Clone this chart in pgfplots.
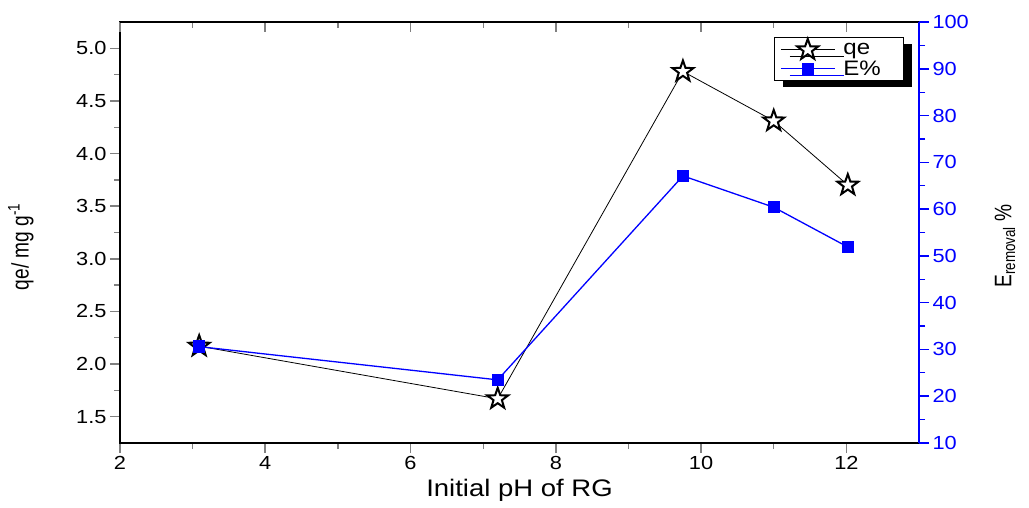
\documentclass[border=0pt]{standalone}
\usepackage{graphicx}
\usepackage{pgfplots}
\pgfplotsset{compat=1.18}
\usetikzlibrary{shadows}
\usepackage{fontspec}
\setmainfont{Liberation Sans}[FakeStretch=1.15]
\newfontfamily\rotfont{Liberation Sans}
\newcommand\tickfont{\fontsize{19}{21}\selectfont}
\definecolor{oblue}{RGB}{0,0,255}

\pgfdeclareplotmark{pstar}{%
  \pgfpathmoveto{\pgfpointpolar{90}{\pgfplotmarksize}}%
  \pgfpathlineto{\pgfpointpolar{126}{0.40\pgfplotmarksize}}%
  \pgfpathlineto{\pgfpointpolar{162}{\pgfplotmarksize}}%
  \pgfpathlineto{\pgfpointpolar{198}{0.40\pgfplotmarksize}}%
  \pgfpathlineto{\pgfpointpolar{234}{\pgfplotmarksize}}%
  \pgfpathlineto{\pgfpointpolar{270}{0.40\pgfplotmarksize}}%
  \pgfpathlineto{\pgfpointpolar{306}{\pgfplotmarksize}}%
  \pgfpathlineto{\pgfpointpolar{342}{0.40\pgfplotmarksize}}%
  \pgfpathlineto{\pgfpointpolar{18}{\pgfplotmarksize}}%
  \pgfpathlineto{\pgfpointpolar{54}{0.40\pgfplotmarksize}}%
  \pgfpathclose
  \pgfusepathqfillstroke
}

\pgfplotstableread{
x y
3.09 2.17
7.20 1.67
9.75 4.78
11.00 4.31
12.02 3.70
}\qedata

\pgfplotstableread{
x y
3.09 30.6
7.20 23.5
9.75 67.1
11.00 60.4
12.02 51.9
}\Edata

\begin{document}
\begin{tikzpicture}
\pgfplotsset{
  common/.style={
    scale only axis, width=799bp, height=421bp,
    at={(0,0)}, anchor=south west,
    xmin=2, xmax=13,
    /pgf/number format/assume math mode=true,
    major tick length=10bp, minor tick length=6bp,
    major tick style={line width=1.6bp},
    minor tick style={line width=1.3bp},
  }
}
\begin{axis}[common,
  ymin=1.25, ymax=5.25,
  xtick={2,4,...,12}, ytick={1.5,2,...,5},
  minor x tick num=1, minor y tick num=1,
  xtick pos=left, ytick pos=left, tick align=outside,
  axis line style={line width=1.5bp},
  xticklabel={\mbox{\tickfont\pgfmathprintnumber[assume math mode=true]{\tick}}},
  yticklabel={\mbox{\tickfont\pgfmathprintnumber[assume math mode=true,fixed,fixed zerofill,precision=1]{\tick}}},
  xlabel={Initial pH of RG},
  xlabel style={font=\fontsize{24}{28}\selectfont, yshift=-2bp},
  ylabel={\scalebox{0.8}[1]{\rotfont\fontsize{24}{26}\selectfont qe/ mg g\textsuperscript{-1}}},
  every axis y label/.style={at={(axis description cs:-0.124,0.466)}, rotate=90, anchor=center},
]
\addplot[black, line width=0.8bp, mark=pstar, mark size=11bp,
  mark options={fill=white, line width=2bp}] table[x=x,y=y] {\qedata};
\end{axis}

\begin{axis}[common,
  ymin=0, ymax=1, hide y axis,
  axis x line*=top, axis line style={-, line width=1.5bp},
  xtick={2,4,...,12}, minor x tick num=1, tick align=inside,
  xticklabels={},
]
\end{axis}

\begin{axis}[common,
  ymin=10, ymax=100,
  axis y line*=right, axis x line=none,
  ytick={10,20,...,100}, minor y tick num=1, tick align=outside,
  axis line style={oblue, -, line width=1.5bp},
  tick style={oblue},
  yticklabel style={oblue},
  yticklabel={\mbox{\tickfont\pgfmathprintnumber[assume math mode=true]{\tick}}},
  ylabel={\scalebox{0.8}[1]{\rotfont\fontsize{24}{26}\selectfont E\textsubscript{removal} \%}},
  every axis y label/.style={at={(axis description cs:1.1076,0.468)}, rotate=90, anchor=center},
  legend style={at={(0.98,0.964)}, anchor=north east, draw=black, fill=white,
    font=\fontsize{21}{23}\selectfont, row sep=0bp, column sep=6bp,
    inner xsep=6bp, inner ysep=1.5bp,
    drop shadow={shadow xshift=9bp, shadow yshift=-7bp, fill=black, opacity=1}},
  legend cell align=left,
  legend image code/.code={\draw[mark repeat=2,mark phase=2,#1] plot coordinates {(0bp,0bp) (27bp,0bp) (54bp,0bp)};},
]
\addlegendimage{black, line width=0.8bp, mark=pstar, mark size=11bp, mark options={fill=white, line width=2bp}}
\addlegendentry{qe\hspace*{14bp}}
\addplot[oblue, line width=1.3bp, mark=square*, mark size=5.5bp] table[x=x,y=y] {\Edata};
\addlegendentry{E\%\hspace*{14bp}}
\end{axis}
\pgfresetboundingbox
\path (current axis.south west) ++(-120bp,-65bp) rectangle ++(1029bp,508bp);
\end{tikzpicture}
\end{document}
